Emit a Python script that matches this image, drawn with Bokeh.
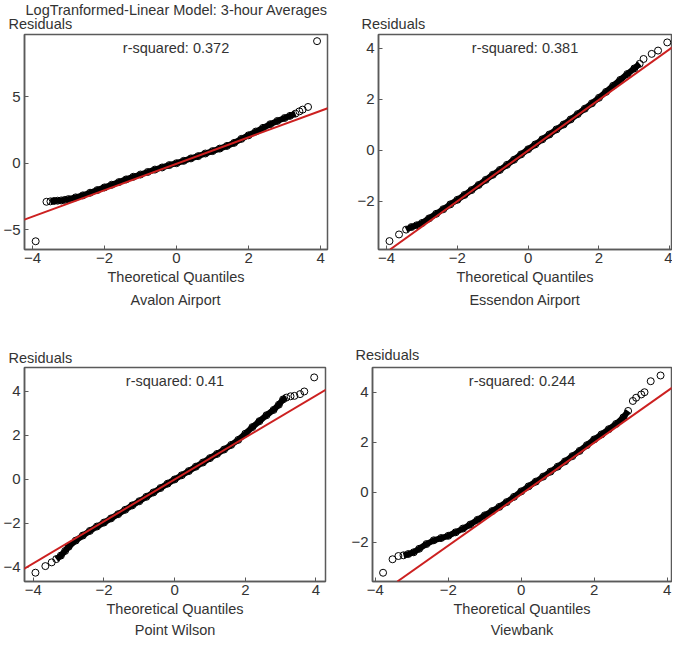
from bokeh.plotting import figure
from bokeh.layouts import column, row
from bokeh.models import Title, Label, Slope, FixedTicker
from bokeh.embed import file_html
from bokeh.resources import INLINE

main_title = "LogTranformed-Linear Model: 3-hour Averages"
stations = ["Avalon Airport", "Essendon Airport", "Point Wilson", "Viewbank"]
r_squared = ["0.372", "0.381", "0.41", "0.244"]
x_label = "Theoretical Quantiles"
y_label = "Residuals"
x_ticks = [-4, -2, 0, 2, 4]
y_ticks = [[-5, 0, 5], [-2, 0, 2, 4], [-4, -2, 0, 2, 4], [-2, 0, 2, 4]]

# reference-line (qqline) parameters per station
fit_gradient = [0.995, 0.994, 0.953, 1.03]
fit_intercept = [-0.02, -0.02, 0.0, -0.07]

# ---- Avalon Airport ----
avalon_band_x = [-3.50, -3.40, -3.30, -3.20, -3.10, -3.00, -2.80, -2.60, -2.40, -2.20, -2.00,
                 -1.80, -1.60, -1.40, -1.20, -1.00, -0.80, -0.60, -0.40, -0.20, 0.00, 0.20,
                 0.40, 0.60, 0.80, 1.00, 1.20, 1.40, 1.60, 1.80, 2.00, 2.20, 2.40, 2.60,
                 2.80, 3.00, 3.15, 3.30]
avalon_band_y = [-2.85, -2.82, -2.80, -2.78, -2.74, -2.68, -2.55, -2.40, -2.20, -2.00, -1.80,
                 -1.60, -1.40, -1.20, -1.00, -0.83, -0.64, -0.46, -0.30, -0.12, 0.02, 0.20,
                 0.38, 0.55, 0.75, 0.93, 1.12, 1.32, 1.55, 1.85, 2.12, 2.40, 2.68, 2.95,
                 3.20, 3.42, 3.58, 3.75]
avalon_tail_x = [-3.91, -3.61, 3.41, 3.50, 3.65, 3.90]
avalon_tail_y = [-5.85, -2.88, 3.92, 4.05, 4.25, 9.20]

# ---- Essendon Airport ----
essendon_band_x = [-3.45, -3.30, -3.15, -3.00, -2.80, -2.60, -2.40, -2.20, -2.00, -1.80, -1.60,
                   -1.40, -1.20, -1.00, -0.80, -0.60, -0.40, -0.20, 0.00, 0.20, 0.40, 0.60,
                   0.80, 1.00, 1.20, 1.40, 1.60, 1.80, 2.00, 2.20, 2.40, 2.60, 2.80, 3.00,
                   3.15]
essendon_band_y = [-3.12, -3.02, -2.95, -2.86, -2.68, -2.50, -2.32, -2.13, -1.95, -1.76, -1.57,
                   -1.37, -1.17, -0.97, -0.78, -0.58, -0.38, -0.17, 0.03, 0.22, 0.42, 0.61,
                   0.81, 1.00, 1.20, 1.41, 1.62, 1.83, 2.05, 2.28, 2.52, 2.75, 2.98, 3.20,
                   3.38]
essendon_tail_x = [-3.92, -3.65, 3.26, 3.49, 3.67, 3.93]
essendon_tail_y = [-3.57, -3.31, 3.57, 3.77, 3.90, 4.22]

# ---- Point Wilson ----
wilson_band_x = [-3.35, -3.22, -3.10, -3.00, -2.80, -2.60, -2.40, -2.20, -2.00, -1.80, -1.60,
                 -1.40, -1.20, -1.00, -0.80, -0.60, -0.40, -0.20, 0.00, 0.20, 0.40, 0.60,
                 0.80, 1.00, 1.20, 1.40, 1.60, 1.80, 2.00, 2.20, 2.40, 2.60, 2.80, 2.95,
                 3.07, 3.16]
wilson_band_y = [-3.62, -3.46, -3.25, -3.06, -2.78, -2.55, -2.34, -2.14, -1.96, -1.77, -1.58,
                 -1.38, -1.18, -0.99, -0.79, -0.59, -0.39, -0.19, 0.00, 0.19, 0.38, 0.58,
                 0.77, 0.97, 1.16, 1.36, 1.57, 1.80, 2.08, 2.38, 2.65, 2.92, 3.16, 3.40,
                 3.64, 3.72]
wilson_tail_x = [-3.94, -3.66, -3.48, 3.28, 3.39, 3.55, 3.67, 3.95]
wilson_tail_y = [-4.24, -3.94, -3.77, 3.78, 3.80, 3.88, 4.00, 4.64]

# ---- Viewbank ----
viewbank_band_x = [-3.23, -3.10, -2.95, -2.80, -2.60, -2.40, -2.20, -2.00, -1.80, -1.60, -1.40,
                   -1.20, -1.00, -0.80, -0.60, -0.40, -0.20, 0.00, 0.20, 0.40, 0.60, 0.80,
                   1.00, 1.20, 1.40, 1.60, 1.80, 2.00, 2.20, 2.40, 2.60, 2.80, 2.93]
viewbank_band_y = [-2.52, -2.47, -2.40, -2.26, -2.07, -1.92, -1.83, -1.74, -1.60, -1.45, -1.29,
                   -1.10, -0.92, -0.75, -0.58, -0.39, -0.18, 0.04, 0.24, 0.43, 0.63, 0.83,
                   1.03, 1.24, 1.45, 1.66, 1.89, 2.12, 2.32, 2.53, 2.74, 3.00, 3.26]
viewbank_tail_x = [-3.79, -3.53, -3.37, 3.06, 3.15, 3.29, 3.38, 3.55, 3.82]
viewbank_tail_y = [-3.22, -2.68, -2.55, 3.66, 3.79, 3.92, 4.01, 4.45, 4.68]

band_x = [avalon_band_x, essendon_band_x, wilson_band_x, viewbank_band_x]
band_y = [avalon_band_y, essendon_band_y, wilson_band_y, viewbank_band_y]
tail_x = [avalon_tail_x, essendon_tail_x, wilson_tail_x, viewbank_tail_x]
tail_y = [avalon_tail_y, essendon_tail_y, wilson_tail_y, viewbank_tail_y]

# layout / style
x_ranges = [(-4.22, 4.19), (-4.23, 4.05), (-4.25, 4.27), (-4.08, 4.12)]
y_ranges = [(-6.47, 9.70), (-3.90, 4.53), (-4.64, 5.09), (-3.57, 5.00)]
sizes = [(338, 322), (334, 322), (338, 316), (334, 316)]
borders = [(19, 11, 34, 73), (40, 1, 34, 72), (18, 13, 43, 57), (34, 1, 45, 56)]
ylabel_offset = [-16, -17, -16, -17]
# (vertical_align, standoff) of the "Residuals" title per panel
ylabel_place = [("top", 0.8), ("bottom", 5.2), ("bottom", 3.8), ("bottom", 9.0)]
main_title_standoff = -4.2
station_standoff = [4, 4, 0, 0]

TXT = "#333333"
FRAME = "#5a5a5a"
RED = "#cc2020"
FONT = "Liberation Sans"
TICK_FS = "15px"
LBL_FS = "14.5px"


def make_title(text, align, offset, standoff, valign):
    return Title(text=text, align=align, offset=offset, standoff=standoff,
                 vertical_align=valign, text_font=FONT, text_font_size=LBL_FS,
                 text_font_style="normal", text_color=TXT)


figs = []
for i in range(4):
    w, h = sizes[i]
    bl, br, bt, bb = borders[i]
    p = figure(width=w, height=h, output_backend="svg", toolbar_location=None,
               x_range=x_ranges[i], y_range=y_ranges[i],
               min_border_left=bl, min_border_right=br,
               min_border_top=bt, min_border_bottom=bb, title=None)
    p.grid.visible = False
    p.outline_line_color = FRAME
    p.outline_line_width = 1.5
    p.background_fill_color = "white"
    p.border_fill_color = "white"

    # titles: first added sits nearest the frame
    va, so = ylabel_place[i]
    p.add_layout(make_title(y_label, "left", ylabel_offset[i], so, va), "above")
    if i == 0:
        p.add_layout(make_title(main_title, "left", 1, main_title_standoff, "bottom"), "above")

    for ax in (p.xaxis[0], p.yaxis[0]):
        ax.axis_line_color = FRAME
        ax.axis_line_width = 1.5
        ax.major_tick_line_color = FRAME
        ax.major_tick_in = 4
        ax.major_tick_out = 0
        ax.minor_tick_line_color = None
        ax.major_label_text_font = FONT
        ax.major_label_text_font_size = TICK_FS
        ax.major_label_text_color = TXT
    p.yaxis.major_label_standoff = 4
    p.xaxis.major_label_standoff = 3
    p.xaxis.ticker = FixedTicker(ticks=x_ticks)
    p.yaxis.ticker = FixedTicker(ticks=y_ticks[i])
    p.xaxis.axis_label = x_label
    p.xaxis.axis_label_text_font = FONT
    p.xaxis.axis_label_text_font_size = LBL_FS
    p.xaxis.axis_label_text_font_style = "normal"
    p.xaxis.axis_label_text_color = TXT
    p.xaxis.axis_label_standoff = 3

    p.add_layout(make_title(stations[i], "center", 0, station_standoff[i], "bottom"), "below")

    p.line(band_x[i], band_y[i], line_color="black", line_width=6)
    p.scatter(band_x[i], band_y[i], marker="circle", size=7, fill_color=None,
              line_color="black", line_width=1)
    p.scatter(tail_x[i], tail_y[i], marker="circle", size=7, fill_color=None,
              line_color="black", line_width=1)

    p.add_layout(Slope(gradient=fit_gradient[i], y_intercept=fit_intercept[i],
                       line_color=RED, line_width=2))

    x0, x1 = x_ranges[i]
    p.add_layout(Label(x=(x0 + x1) / 2, y=y_ranges[i][1], text=f"r-squared: {r_squared[i]}",
                       text_align="center", text_baseline="top", y_offset=-5,
                       text_font=FONT, text_font_size=LBL_FS, text_color=TXT))
    figs.append(p)

layout = column(row(figs[0], figs[1]), row(figs[2], figs[3]))
open("out.html", "w").write(file_html(layout, INLINE))
